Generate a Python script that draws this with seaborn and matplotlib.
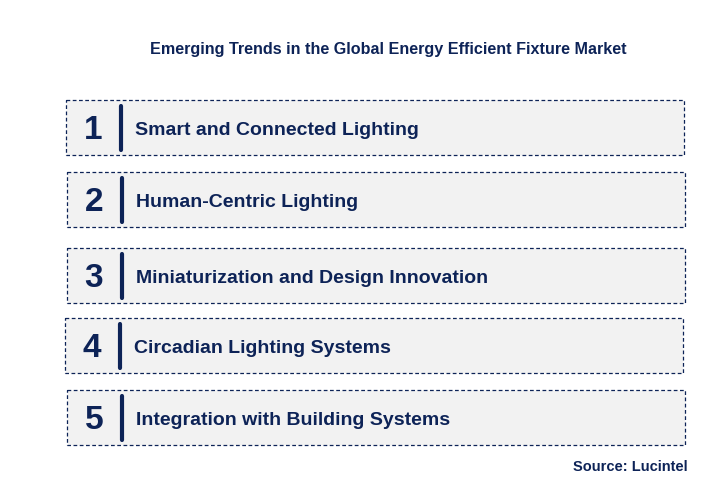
import matplotlib
matplotlib.use("Agg")
import matplotlib.pyplot as plt
import seaborn as sns

# data
ranks = ["1", "2", "3", "4", "5"]
trends = [
    "Smart and Connected Lighting",
    "Human-Centric Lighting",
    "Miniaturization and Design Innovation",
    "Circadian Lighting Systems",
    "Integration with Building Systems",
]
title = "Emerging Trends in the Global Energy Efficient Fixture Market"
source = "Source: Lucintel"

# layout (pixels)
box_left = [66, 67, 67, 65, 67]
box_top = [100, 172, 248, 318, 390]
box_w = 618
box_h = 55
navy = "#0d2357"

sns.set_theme(style="white", font="Liberation Sans")
fig = plt.figure(figsize=(7.12, 5.01), dpi=100)
ax = fig.add_axes([0, 0, 1, 1])
ax.set_xlim(0, 712)
ax.set_ylim(501, 0)
ax.axis("off")

centers = [t + box_h / 2 for t in box_top]
ax.barh(centers, [box_w] * 5, height=box_h, left=box_left,
        color="#f2f2f2", edgecolor=navy, linestyle=(0, (3, 2)), linewidth=0.9)

for i, (r, t) in enumerate(zip(ranks, trends)):
    c = centers[i]
    ax.text(box_left[i] + 27, c + 3, r, ha="center", va="center",
            fontsize=24, fontweight="bold", color=navy)
    ax.plot([box_left[i] + 55, box_left[i] + 55], [c - 22, c + 22],
            color=navy, linewidth=3)
    ax.text(box_left[i] + 69, c + 3, t, ha="left", va="center",
            fontsize=14, fontweight="bold", color=navy)

ax.text(388, 49, title, ha="center", va="center", fontsize=11.6,
        fontweight="bold", color=navy)
ax.text(688, 467, source, ha="right", va="center", fontsize=10.5,
        fontweight="bold", color=navy)

fig.savefig("out.png", dpi=100)
